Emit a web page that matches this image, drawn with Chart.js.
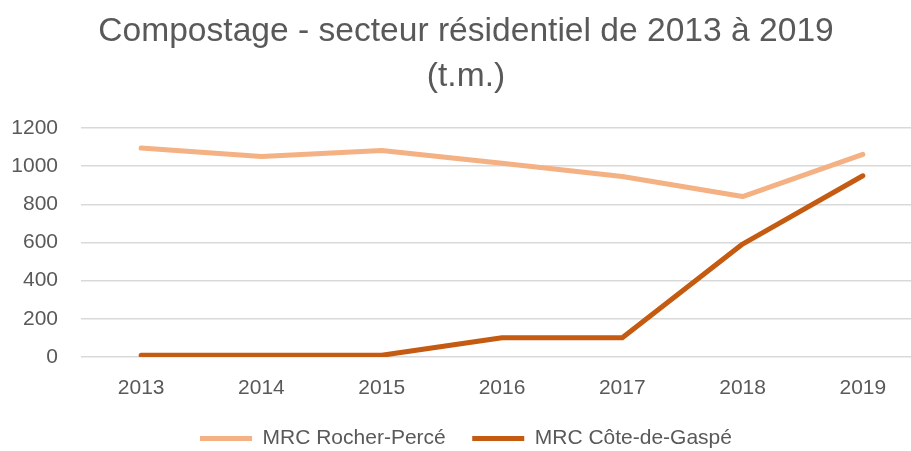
<!DOCTYPE html>
<html>
<head>
<meta charset="utf-8">
<script src="https://cdn.jsdelivr.net/npm/chart.js@4"></script>
<style>
  html, body { margin: 0; padding: 0; background: #fff; overflow: hidden; }
  #wrap { width: 925px; height: 459px; }
</style>
</head>
<body>
<div id="wrap"><canvas id="dataPlot" width="925" height="459"></canvas></div>
<script>
const years = ['2013', '2014', '2015', '2016', '2017', '2018', '2019'];
const rocherPerce = [1095, 1051, 1082, 1016, 946, 841, 1062];
const coteDeGaspe = [9, 9, 9, 101, 101, 592, 950];
const yTicks = [0, 200, 400, 600, 800, 1000, 1200];

const textGray = '#595959';
const font = 'Liberation Sans';

const dataPlot = {
  labels: years,
  datasets: [{
    label: 'MRC Rocher-Percé',
    data: rocherPerce,
    borderColor: '#F4B183',
    backgroundColor: '#F4B183',
    borderWidth: 5,
    borderCapStyle: 'round',
    borderJoinStyle: 'round'
  }, {
    label: 'MRC Côte-de-Gaspé',
    data: coteDeGaspe,
    borderColor: '#C55A11',
    backgroundColor: '#C55A11',
    borderWidth: 5,
    borderCapStyle: 'round',
    borderJoinStyle: 'round'
  }]
};

new Chart(document.getElementById('dataPlot'), {
  type: 'line',
  data: dataPlot,
  options: {
    responsive: false,
    animation: false,
    layout: { padding: { left: 9, right: 2, top: 0, bottom: 0 } },
    elements: {
      line: { tension: 0 },
      point: { radius: 0, hoverRadius: 0 }
    },
    scales: {
      x: {
        offset: true,
        grid: { display: false, drawTicks: false },
        border: { display: false },
        ticks: { color: textGray, font: { family: font, size: 21 }, padding: 19 },
        afterFit: (scale) => { scale.height = 44.5; }
      },
      y: {
        min: 0,
        max: 1200,
        afterBuildTicks: (scale) => { scale.ticks = yTicks.map(v => ({ value: v })); },
        afterFit: (scale) => { scale.width = 72; },
        grid: { color: '#D9D9D9', lineWidth: 1.5, drawTicks: false },
        border: { display: false },
        ticks: {
          color: textGray,
          font: { family: font, size: 21 },
          padding: 23,
          callback: (v) => String(v)
        }
      }
    },
    plugins: {
      title: {
        display: true,
        text: ['Compostage - secteur résidentiel de 2013 à 2019', '(t.m.)'],
        color: textGray,
        font: { family: font, size: 33.6, weight: 'normal', lineHeight: 1.34 },
        padding: { top: 9, bottom: 29 }
      },
      legend: {
        position: 'bottom',
        labels: {
          color: textGray,
          font: { family: font, size: 21 },
          usePointStyle: true,
          pointStyle: 'line',
          pointStyleWidth: 52,
          padding: 26.5
        }
      },
      tooltip: { enabled: false }
    }
  }
});
</script>
</body>
</html>
